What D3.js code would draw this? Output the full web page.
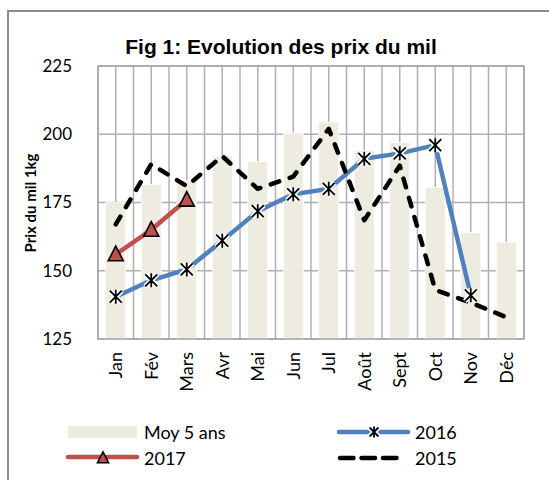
<!DOCTYPE html>
<html lang="fr">
<head>
  <meta charset="utf-8">
  <title>Fig 1</title>
  <script src="https://d3js.org/d3.v7.min.js"></script>
  <style>
    body { margin: 0; background: #fff; }
  </style>
</head>
<body>
  <div id="stage"></div>
  <script>
    // donnees
    var months = ["Jan", "Fév", "Mars", "Avr", "Mai", "Jun", "Jul", "Août", "Sept", "Oct", "Nov", "Déc"];
    var moy5ans = [175, 181.5, 183, 192, 190, 200.5, 204.5, 194, 197, 180.5, 164, 160.5];
    var prix2017 = [156, 165, 176];
    var prix2016 = [140.5, 146.5, 150.5, 161, 171.8, 178, 180, 191, 193, 196, 141];
    var prix2015 = [167, 189, 181, 192, 180, 184.5, 202, 168.5, 188.5, 143, 138.3, 133];
    var yTicks = [125, 150, 175, 200, 225];

    var W = 549, H = 480;
    var plot = { left: 98, right: 524, top: 66, bottom: 339 };

    var svg = d3.select("#stage").append("svg")
      .attr("width", W).attr("height", H);

    // cadre du graphique
    svg.append("rect").attr("x", 8).attr("y", 11).attr("width", W + 10).attr("height", H + 10)
      .attr("fill", "#fff").attr("stroke", "#8c8c8c").attr("stroke-width", 2);

    var x = d3.scaleBand().domain(months).range([plot.left, plot.right]).padding(0);
    var y = d3.scaleLinear().domain([125, 225]).range([plot.bottom, plot.top]);
    var cx = function (i) { return x(months[i]) + x.bandwidth() / 2; };

    // grille verticale (bords + milieux des categories)
    var vlines = [];
    months.forEach(function (m, i) { vlines.push(x(m)); vlines.push(cx(i)); });
    vlines.push(plot.right);
    svg.append("g").selectAll("line").data(vlines).join("line")
      .attr("x1", function (d) { return d; }).attr("x2", function (d) { return d; })
      .attr("y1", plot.top).attr("y2", plot.bottom)
      .attr("stroke", "#b0b0b0").attr("stroke-width", 1.5);

    svg.append("g").selectAll("line").data(yTicks).join("line")
      .attr("x1", plot.left).attr("x2", plot.right)
      .attr("y1", function (d) { return y(d); }).attr("y2", function (d) { return y(d); })
      .attr("stroke", "#b0b0b0").attr("stroke-width", 1.5);

    // barres moyenne 5 ans
    var barW = 20;
    svg.append("g").selectAll("rect").data(moy5ans).join("rect")
      .attr("x", function (d, i) { return cx(i) - barW / 2; })
      .attr("y", function (d) { return y(d); })
      .attr("width", barW)
      .attr("height", function (d) { return plot.bottom - y(d); })
      .attr("fill", "#eeece1").attr("stroke", "#fff").attr("stroke-width", 0.8);

    // axe y
    var yAxis = svg.append("g").attr("transform", "translate(" + plot.left + ",0)")
      .call(d3.axisLeft(y).tickValues(yTicks).tickSize(0).tickPadding(26));
    yAxis.select(".domain").remove();
    yAxis.selectAll("text").attr("font-family", "Lato, sans-serif").attr("font-size", 17).attr("fill", "#000");

    // axe x
    var xAxis = svg.append("g").attr("transform", "translate(0," + plot.bottom + ")")
      .call(d3.axisBottom(x).tickSize(0));
    xAxis.select(".domain").remove();
    xAxis.selectAll("text")
      .attr("font-family", "Lato, sans-serif").attr("font-size", 18).attr("fill", "#000")
      .attr("text-anchor", "end").attr("dy", null).attr("y", 0)
      .attr("transform", "translate(6.5,13) rotate(-90)");

    // cadre zone de trace
    svg.append("rect").attr("x", plot.left).attr("y", plot.top)
      .attr("width", plot.right - plot.left).attr("height", plot.bottom - plot.top)
      .attr("fill", "none").attr("stroke", "#a6a6a6").attr("stroke-width", 1.5);

    // lignes
    var line = d3.line().x(function (d, i) { return cx(i); }).y(function (d) { return y(d); });

    svg.append("path").datum(prix2016).attr("d", line)
      .attr("fill", "none").attr("stroke", "#4f81bd").attr("stroke-width", 4.5).attr("stroke-linejoin", "round");

    svg.append("path").datum(prix2015).attr("d", line)
      .attr("fill", "none").attr("stroke", "#000").attr("stroke-width", 4.5)
      .attr("stroke-dasharray", "9,11").attr("stroke-linecap", "round").attr("stroke-linejoin", "round");

    svg.append("path").datum(prix2017).attr("d", line)
      .attr("fill", "none").attr("stroke", "#c0504d").attr("stroke-width", 4.5).attr("stroke-linejoin", "round");

    // marqueurs
    function star(g, px, py, r) {
      var p = "M" + (px - r) + "," + (py - r) + "L" + (px + r) + "," + (py + r) +
        "M" + (px - r) + "," + (py + r) + "L" + (px + r) + "," + (py - r) +
        "M" + px + "," + (py - r - 1) + "L" + px + "," + (py + r + 1);
      g.append("path").attr("d", p).attr("stroke", "#fff").attr("stroke-width", 5).attr("fill", "none");
      g.append("path").attr("d", p).attr("stroke", "#000").attr("stroke-width", 1.8).attr("fill", "none");
    }
    function tri(g, px, py, s) {
      var p = "M" + px + "," + (py - s * 1.1) + "L" + (px + s) + "," + (py + s * 0.85) + "L" + (px - s) + "," + (py + s * 0.85) + "Z";
      g.append("path").attr("d", p).attr("fill", "#c0504d").attr("stroke", "#000").attr("stroke-width", 1.6);
    }

    var mk = svg.append("g");
    prix2016.forEach(function (d, i) { star(mk, cx(i), y(d), 6); });
    prix2017.forEach(function (d, i) { tri(mk, cx(i), y(d), 7.5); });

    // titre
    svg.append("text").attr("x", 281).attr("y", 54).attr("text-anchor", "middle")
      .attr("font-family", "Liberation Sans, Arial, sans-serif").attr("font-weight", "bold").attr("font-size", 21)
      .text("Fig 1: Evolution des prix du mil");

    svg.append("text").attr("transform", "translate(36,203) rotate(-90)").attr("text-anchor", "middle")
      .attr("font-family", "Lato, sans-serif").attr("font-weight", "bold").attr("font-size", 15)
      .text("Prix du mil 1kg");

    // legende
    var leg = svg.append("g").attr("font-family", "Lato, sans-serif").attr("font-size", 18);
    leg.append("rect").attr("x", 68).attr("y", 426).attr("width", 69).attr("height", 12).attr("fill", "#eeece1");
    leg.append("text").attr("x", 144).attr("y", 439).text("Moy 5 ans");

    leg.append("line").attr("x1", 68).attr("x2", 137).attr("y1", 457).attr("y2", 457)
      .attr("stroke", "#c0504d").attr("stroke-width", 4.5).attr("stroke-linecap", "round");
    tri(leg, 103, 458, 5.5);
    leg.append("text").attr("x", 144).attr("y", 465).text("2017");

    leg.append("line").attr("x1", 339).attr("x2", 408).attr("y1", 432).attr("y2", 432)
      .attr("stroke", "#4f81bd").attr("stroke-width", 4.5).attr("stroke-linecap", "round");
    star(leg, 374, 432, 4.5);
    leg.append("text").attr("x", 415).attr("y", 439).text("2016");

    leg.append("line").attr("x1", 340).attr("x2", 398).attr("y1", 458).attr("y2", 458)
      .attr("stroke", "#000").attr("stroke-width", 4.5).attr("stroke-dasharray", "13.5,8").attr("stroke-linecap", "round");
    leg.append("text").attr("x", 415).attr("y", 465).text("2015");
  </script>
</body>
</html>
